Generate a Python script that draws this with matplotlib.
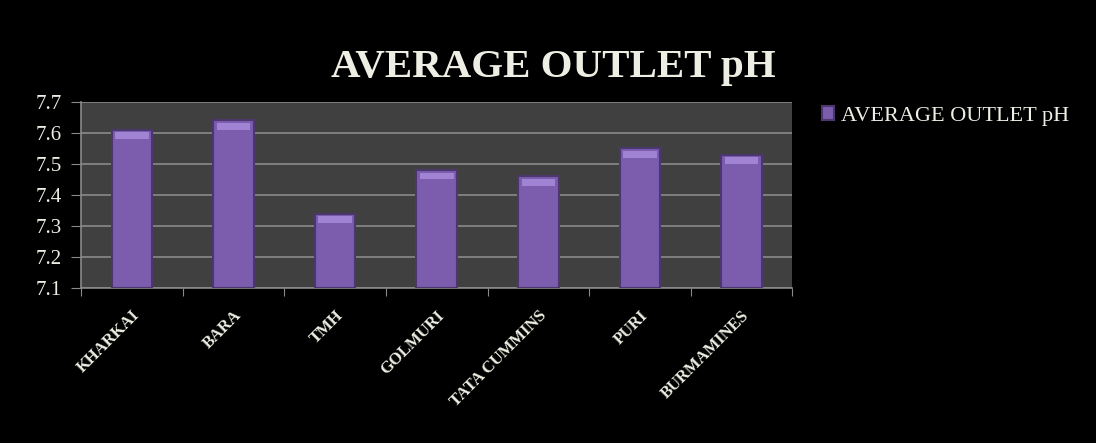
import numpy as np
import matplotlib.pyplot as plt

sites = ['KHARKAI', 'BARA', 'TMH', 'GOLMURI', 'TATA CUMMINS', 'PURI', 'BURMAMINES']
avg_ph = [7.61, 7.64, 7.34, 7.48, 7.46, 7.55, 7.53]
y_ticks = [7.1, 7.2, 7.3, 7.4, 7.5, 7.6, 7.7]

plt.rcParams['font.family'] = ['Liberation Serif', 'DejaVu Serif']

fig = plt.figure(figsize=(10.96, 4.43), dpi=100, facecolor='black')
ax = fig.add_axes([0.074, 0.35, 0.649, 0.42])
ax.set_facecolor('#404040')

x = np.arange(len(sites))
bars = ax.bar(x, [v - 7.1 for v in avg_ph], bottom=7.1, width=0.4,
              color='#7b5cad', edgecolor='#4b3670', linewidth=1.5,
              label='AVERAGE OUTLET pH', zorder=3)
# lighter bevel at top of each bar
ax.bar(x, [0.022] * len(sites), bottom=[v - 0.03 for v in avg_ph], width=0.33,
       color='#a083d2', linewidth=0, zorder=4)

ax.set_ylim(7.1, 7.7)
ax.set_xlim(-0.5, len(sites) - 0.5)
ax.set_yticks(y_ticks)
ax.set_yticklabels([f'{t:.1f}' for t in y_ticks], fontsize=15, color='#eeeee4')
ax.yaxis.grid(True, color='#8a8a8a', linewidth=1.2, zorder=1)

ax.set_xticks(np.arange(-0.5, len(sites), 1))
ax.set_xticklabels([])
ax.set_xticks(x, minor=True)
ax.set_xticklabels(sites, minor=True, rotation=45, ha='right', rotation_mode='anchor',
                   fontsize=12, fontweight='bold', color='#eeeee4')
ax.tick_params(axis='x', which='minor', length=0, pad=14)
ax.tick_params(axis='x', which='major', length=6, color='#8a8a8a', direction='out')
ax.tick_params(axis='y', length=7, color='#8a8a8a', direction='out', pad=7)

for side in ['top', 'right']:
    ax.spines[side].set_visible(False)
for side in ['left', 'bottom']:
    ax.spines[side].set_color('#8a8a8a')
    ax.spines[side].set_linewidth(1.2)

fig.text(0.505, 0.848, 'AVERAGE OUTLET pH', ha='center', va='center',
         fontsize=29.5, fontweight='bold', color='#eeeee4')

leg = fig.legend(handles=[bars], loc='upper left', bbox_to_anchor=(0.732, 0.805),
                 frameon=False, fontsize=16, handlelength=0.55, handleheight=0.55,
                 handletextpad=0.3, labelcolor='#eeeee4')

fig.savefig('out.png', dpi=100, facecolor='black')
